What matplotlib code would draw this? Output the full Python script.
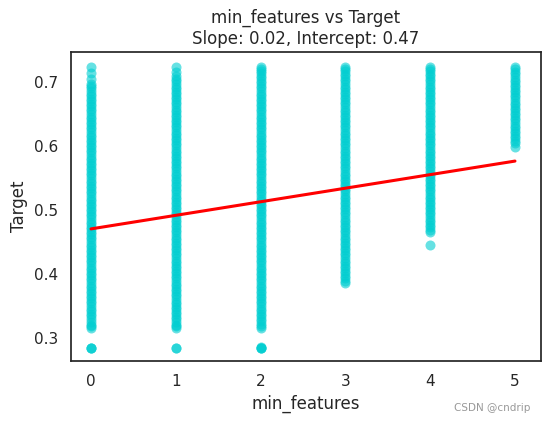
import matplotlib
matplotlib.use("Agg")
import matplotlib.pyplot as plt
import seaborn as sns

# Data, Target values in thousandths for each min_features value
y_x0_milli = [284, 284, 284, 316, 318, 321, 325, 330, 334, 338, 342, 346, 350, 354, 358, 362, 366, 370,
              374, 378, 382, 386, 390, 394, 398, 402, 406, 410, 414, 418, 422, 426, 430, 434,
              438, 442, 446, 450, 454, 458, 462, 466, 470, 474, 478, 482, 486, 490, 494, 498,
              502, 506, 510, 514, 518, 522, 526, 530, 534, 538, 542, 546, 550, 554, 558, 562,
              566, 570, 574, 578, 582, 586, 590, 594, 598, 602, 606, 610, 614, 618, 622, 626,
              630, 634, 638, 642, 646, 650, 654, 658, 662, 666, 670, 674, 678, 682, 686, 690,
              694, 697, 705, 714, 724]
y_x1_milli = [284, 284, 316, 318, 321, 325, 329, 333, 337, 341, 345, 349, 353, 357, 361, 365, 369,
              373, 377, 381, 385, 389, 393, 397, 401, 405, 409, 413, 417, 421, 425, 429, 433,
              437, 441, 445, 449, 453, 457, 461, 465, 469, 473, 477, 481, 485, 489, 493, 497,
              501, 505, 509, 513, 517, 521, 525, 529, 533, 537, 541, 545, 549, 553, 557, 561,
              565, 569, 573, 577, 581, 585, 589, 593, 597, 601, 605, 609, 613, 617, 621, 625,
              629, 633, 637, 641, 645, 649, 653, 657, 661, 665, 669, 673, 677, 681, 685, 689,
              693, 697, 701, 705, 710, 716, 724]
y_x2_milli = [284, 284, 285, 286, 316, 318, 322, 326, 330, 334, 338, 342, 346, 350, 354, 358, 362, 366,
              370, 374, 378, 382, 386, 390, 394, 398, 402, 406, 410, 414, 418, 422, 426, 430,
              434, 438, 442, 446, 450, 454, 458, 462, 466, 470, 474, 478, 482, 486, 490, 494,
              498, 502, 506, 510, 514, 518, 522, 526, 530, 534, 538, 542, 546, 550, 554, 558,
              562, 566, 570, 574, 578, 582, 586, 590, 594, 598, 602, 606, 610, 614, 618, 622,
              626, 630, 634, 638, 642, 646, 650, 654, 658, 662, 666, 670, 674, 678, 682, 686,
              690, 694, 698, 702, 706, 710, 714, 718, 721, 724]
y_x3_milli = [386, 389, 393, 397, 401, 405, 409, 413, 417, 421, 425, 429, 433, 437, 441, 445,
              449, 453, 457, 461, 465, 469, 473, 477, 481, 485, 489, 493, 497, 501, 505, 509,
              513, 517, 521, 525, 529, 533, 537, 541, 545, 549, 553, 557, 561, 565, 569, 573,
              577, 581, 585, 589, 593, 597, 601, 605, 609, 613, 617, 621, 625, 629, 633, 637,
              641, 645, 649, 653, 657, 661, 665, 669, 673, 677, 681, 685, 689, 693, 697, 701,
              705, 709, 713, 717, 721, 724]
y_x4_milli = [445, 466, 469, 473, 477, 481, 485, 489, 493, 497, 501, 505, 509, 513, 517, 521,
              525, 529, 533, 537, 541, 545, 549, 553, 557, 561, 565, 569, 573, 577, 581, 585,
              589, 593, 597, 601, 605, 609, 613, 617, 621, 625, 629, 633, 637, 641, 645, 649,
              653, 657, 661, 665, 669, 673, 677, 681, 685, 689, 693, 697, 701, 705, 709, 713,
              717, 721, 724]
y_x5_milli = [598, 604, 608, 612, 616, 620, 624, 628, 632, 636, 640, 644, 648, 652, 656, 660,
              664, 668, 672, 676, 680, 684, 688, 692, 696, 700, 704, 708, 712, 716, 720, 724]
columns = [y_x0_milli, y_x1_milli, y_x2_milli, y_x3_milli, y_x4_milli, y_x5_milli]
x_categories = [0, 1, 2, 3, 4, 5]

slope = 0.0212
intercept = 0.4705
x_ticks = [0, 1, 2, 3, 4, 5]
y_ticks = [0.3, 0.4, 0.5, 0.6, 0.7]

sns.set_theme(style="white")
plt.rcParams['font.family'] = ['DejaVu Sans']

fig = plt.figure(figsize=(5.46, 4.23), dpi=100)
ax = fig.add_axes([71/546, 1 - 361/423, (541-71)/546, (361-52)/423])

xs, ys = [], []
for xc, col in zip(x_categories, columns):
    for v in col:
        xs.append(xc)
        ys.append(v / 1000.0)
ax.scatter(xs, ys, s=52, color="#00CED1", alpha=0.6, linewidths=0)

lx = [min(x_categories), max(x_categories)]
ly = [intercept + slope * v for v in lx]
ax.plot(lx, ly, color="red", lw=2.2)

ax.set_xlim(-0.236, 5.307)
ax.set_ylim(0.264, 0.747)
ax.set_xticks(x_ticks)
ax.set_yticks(y_ticks)
ax.set_xticklabels([str(t) for t in x_ticks])
ax.set_yticklabels([f"{t:.1f}" for t in y_ticks])
ax.tick_params(labelsize=11, colors="#262626")
for sp in ax.spines.values():
    sp.set_color("#262626")
    sp.set_linewidth(1.25)
ax.set_xlabel("min_features", fontsize=12)
ax.set_ylabel("Target", fontsize=12)
ax.set_title("min_features vs Target\nSlope: 0.02, Intercept: 0.47", fontsize=12)
fig.text(530/546, 1 - 408/423, "CSDN @cndrip", fontsize=7.5, color="#999999", ha="right", va="center")

fig.savefig("out.png", dpi=100)
